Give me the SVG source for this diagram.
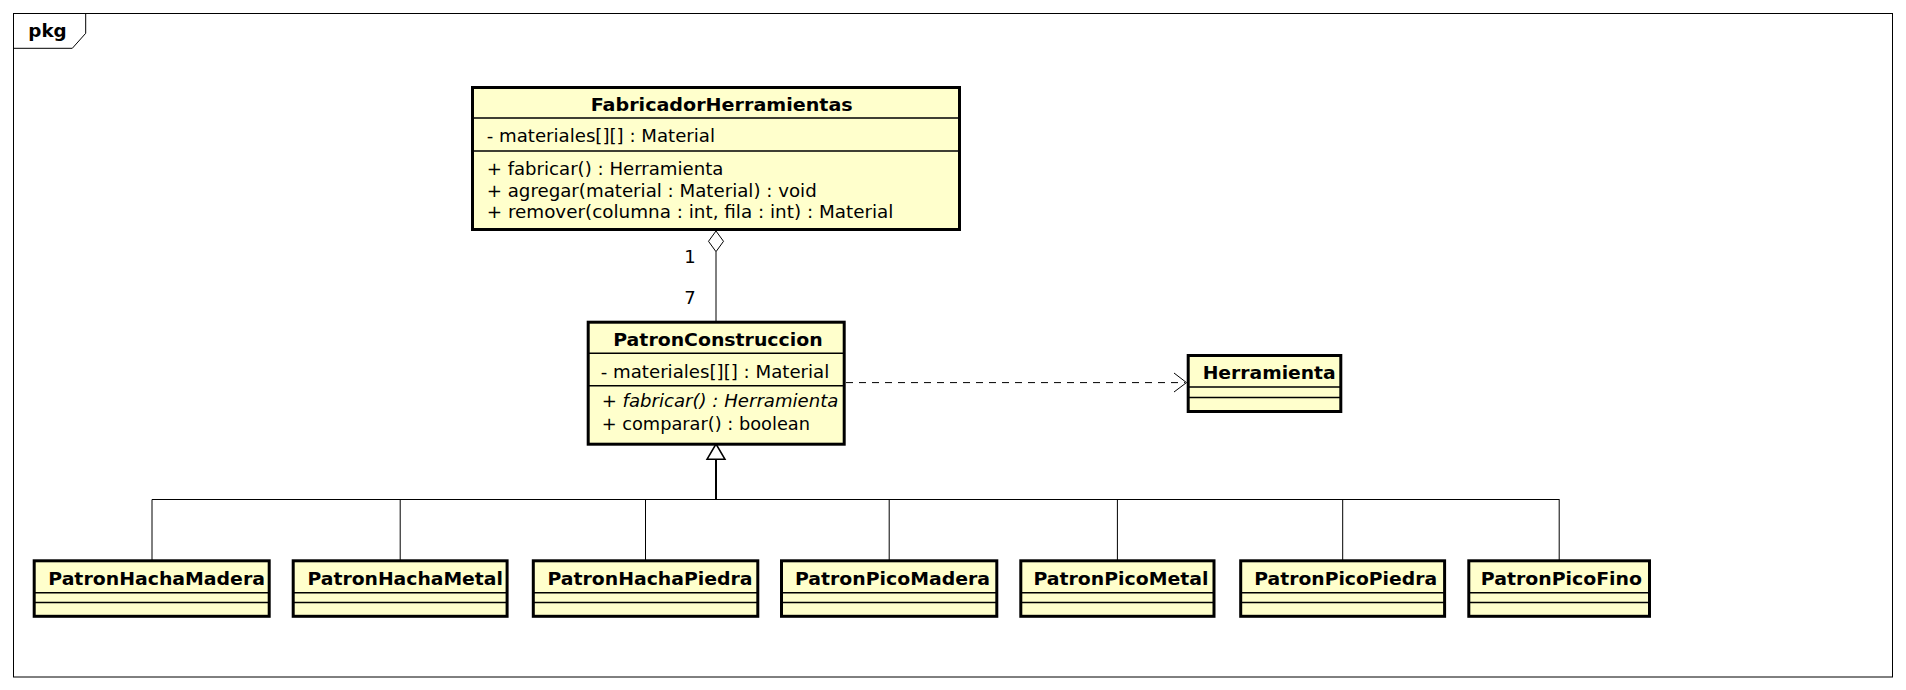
<svg xmlns="http://www.w3.org/2000/svg" width="1906" height="690" viewBox="0 0 1906 690">
<style>
text{font-family:"DejaVu Sans","Liberation Sans",sans-serif;font-size:18px;fill:#000}
.b{font-weight:bold}
.i{font-style:italic}
.box{fill:#FFFFCC;stroke:#000;stroke-width:3}
.sep{stroke:#000;stroke-width:1.5;fill:none}
.ln{stroke:#000;stroke-width:1;fill:none}
</style>
<rect width="1906" height="690" fill="#fff"/>
<g id="frame">
<rect x="13.5" y="13.5" width="1879" height="663.5" fill="none" stroke="#000" stroke-width="1"/>
<path d="M13.5 48.3 H72.3 L85.7 33.3 V13.5" fill="none" stroke="#000" stroke-width="1"/>
<text class="b" x="28.3" y="37.3" textLength="38.4" lengthAdjust="spacingAndGlyphs">pkg</text>
</g>
<g id="connectors">
<path class="ln" d="M716 251.7 V321"/>
<polygon points="716,231 723.5,241.3 716,251.7 708.5,241.3" fill="#fff" stroke="#000" stroke-width="1"/>
<text x="690" y="263" text-anchor="middle">1</text>
<text x="690" y="304" text-anchor="middle">7</text>
<path class="ln" d="M846 382.6 H1185" stroke-dasharray="7,6"/>
<path class="ln" d="M1174 373 L1186.5 382.6 L1174 392"/>
<path d="M716 459.3 V499.5" stroke="#000" stroke-width="2" fill="none"/>
<polygon points="716,444 725,459.3 707,459.3" fill="#fff" stroke="#000" stroke-width="1.5"/>
<path class="ln" d="M152 499.5 H1559.5"/>
<path class="ln" d="M152 499.5 V560 M400.2 499.5 V560 M645.5 499.5 V560 M889.2 499.5 V560 M1117.4 499.5 V560 M1342.7 499.5 V560 M1559.2 499.5 V560"/>
</g>
<g id="FabricadorHerramientas">
<rect class="box" x="472.5" y="87.5" width="487" height="142"/>
<path class="sep" d="M472.5 118 H959.5 M472.5 151 H959.5"/>
<text class="b" x="590.7" y="110.5" textLength="262" lengthAdjust="spacingAndGlyphs">FabricadorHerramientas</text>
<text x="486.7" y="141.7" textLength="228.3" lengthAdjust="spacingAndGlyphs">- materiales[][] : Material</text>
<text x="486.7" y="175" textLength="236.7" lengthAdjust="spacingAndGlyphs">+ fabricar() : Herramienta</text>
<text x="486.7" y="196.7" textLength="330" lengthAdjust="spacingAndGlyphs">+ agregar(material : Material) : void</text>
<text x="486.7" y="218.3" textLength="406.7" lengthAdjust="spacingAndGlyphs">+ remover(columna : int, fila : int) : Material</text>
</g>
<g id="PatronConstruccion">
<rect class="box" x="588.2" y="322.2" width="256" height="122"/>
<path class="sep" d="M588.2 353.3 H844.2 M588.2 385.7 H844.2"/>
<text class="b" x="613.3" y="345.5" textLength="209.3" lengthAdjust="spacingAndGlyphs">PatronConstruccion</text>
<text x="600.7" y="378.3" textLength="228.6" lengthAdjust="spacingAndGlyphs">- materiales[][] : Material</text>
<text class="i" x="601.7" y="406.7" textLength="236.7" lengthAdjust="spacingAndGlyphs">+ fabricar() : Herramienta</text>
<text x="601.7" y="429.5" textLength="208.3" lengthAdjust="spacingAndGlyphs">+ comparar() : boolean</text>
</g>
<g id="Herramienta">
<rect class="box" x="1188.2" y="355.5" width="152.6" height="56"/>
<path class="sep" d="M1188.2 387 H1340.8 M1188.2 397.5 H1340.8"/>
<text class="b" x="1202.7" y="379" textLength="133" lengthAdjust="spacingAndGlyphs">Herramienta</text>
</g>
<g id="PatronHachaMadera">
<rect class="box" x="34.2" y="560.8" width="235" height="55.5"/>
<path class="sep" d="M34.2 592.7 H269.2 M34.2 602.5 H269.2"/>
<text class="b" x="48.3" y="585" textLength="216.7" lengthAdjust="spacingAndGlyphs">PatronHachaMadera</text>
</g>
<g id="PatronHachaMetal">
<rect class="box" x="293.2" y="560.8" width="213.9" height="55.5"/>
<path class="sep" d="M293.2 592.7 H507.1 M293.2 602.5 H507.1"/>
<text class="b" x="307.5" y="585" textLength="195.4" lengthAdjust="spacingAndGlyphs">PatronHachaMetal</text>
</g>
<g id="PatronHachaPiedra">
<rect class="box" x="533.3" y="560.8" width="224.5" height="55.5"/>
<path class="sep" d="M533.3 592.7 H757.8 M533.3 602.5 H757.8"/>
<text class="b" x="547.5" y="585" textLength="205" lengthAdjust="spacingAndGlyphs">PatronHachaPiedra</text>
</g>
<g id="PatronPicoMadera">
<rect class="box" x="781.5" y="560.8" width="215.3" height="55.5"/>
<path class="sep" d="M781.5 592.7 H996.8 M781.5 602.5 H996.8"/>
<text class="b" x="795" y="585" textLength="195" lengthAdjust="spacingAndGlyphs">PatronPicoMadera</text>
</g>
<g id="PatronPicoMetal">
<rect class="box" x="1020.8" y="560.8" width="193.2" height="55.5"/>
<path class="sep" d="M1020.8 592.7 H1214 M1020.8 602.5 H1214"/>
<text class="b" x="1033.5" y="585" textLength="175" lengthAdjust="spacingAndGlyphs">PatronPicoMetal</text>
</g>
<g id="PatronPicoPiedra">
<rect class="box" x="1240.7" y="560.8" width="203.9" height="55.5"/>
<path class="sep" d="M1240.7 592.7 H1444.6 M1240.7 602.5 H1444.6"/>
<text class="b" x="1254.3" y="585" textLength="182.8" lengthAdjust="spacingAndGlyphs">PatronPicoPiedra</text>
</g>
<g id="PatronPicoFino">
<rect class="box" x="1468.8" y="560.8" width="180.7" height="55.5"/>
<path class="sep" d="M1468.8 592.7 H1649.5 M1468.8 602.5 H1649.5"/>
<text class="b" x="1480.8" y="585" textLength="161.2" lengthAdjust="spacingAndGlyphs">PatronPicoFino</text>
</g>
</svg>
